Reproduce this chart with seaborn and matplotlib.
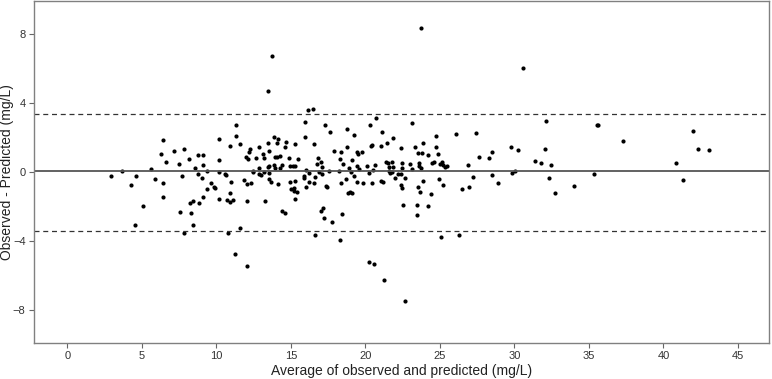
import numpy as np
import pandas as pd
import matplotlib
matplotlib.use('Agg')
import matplotlib.pyplot as plt
import seaborn as sns

# average of observed and predicted (mg/L)
avg_vals = [2.93, 3.7, 4.3, 4.63, 4.54, 5.1, 5.64, 5.9, 6.3, 6.44, 6.42, 6.42, 6.6, 7.18, 7.47,
            7.56, 7.72, 7.81, 7.85, 8.15, 8.23, 8.3, 8.46, 8.44, 8.57, 8.8, 8.78, 8.82,
            13.74, 13.45, 16.13, 16.47, 15.95, 20.72, 11.34, 11.34, 10.16, 10.92, 11.59, 17.32,
            17.63, 18.75, 19.22, 20.32, 15.97, 16.58, 13.87, 14.14, 13.47, 14.05, 14.68, 12.87,
            12.26, 12.21, 13.15, 13.52, 14.61, 15.26, 14.3, 13.92, 14.05, 12.66, 11.97, 12.15,
            13.2, 14.88, 15.48, 9.09, 9.09, 10.16, 9.38, 9.06, 9.64, 9.82, 9.89, 10.2, 10.6,
            10.63, 10.97, 9.11, 9.4, 10.92, 11.84, 12.08, 12.33, 12.44, 12.48, 12.89, 12.89,
            13.0, 13.2, 13.49, 13.56, 13.56, 13.52, 13.65, 13.89, 13.92, 14.3, 14.43, 14.16,
            14.95, 15.13, 15.26, 14.93, 15.3, 14.99, 15.24, 15.2, 15.44, 15.28, 15.86, 15.86,
            16.02, 16.04, 16.24, 16.22, 16.54, 16.64, 16.76, 16.91, 16.83, 17.05, 17.11, 17.09,
            17.34, 17.41, 17.58, 17.9, 18.39, 18.75, 18.21, 18.37, 18.3, 18.5, 18.7, 18.84,
            18.97, 19.11, 18.89, 19.04, 19.13, 19.24, 19.46, 19.5, 19.8, 19.46, 19.6, 19.42,
            19.83, 20.11, 20.22, 20.38, 20.45, 20.67, 20.43, 20.54,
            10.18, 10.72, 10.9, 11.14, 12.04, 13.27, 10.81, 11.61, 11.28, 12.04, 14.41, 14.59,
            16.65, 17.01, 17.14, 17.23, 17.79, 18.44, 18.3, 20.22, 20.56,
            23.72, 30.56, 23.15, 21.14, 21.88, 21.48, 21.05, 22.37, 23.36, 23.85, 24.77, 24.75,
            23.54, 23.77, 24.23, 24.88, 26.11, 27.45, 27.63, 28.3, 28.52, 29.78, 30.25, 32.13,
            32.04, 31.37, 31.81, 32.48, 21.39, 21.52, 21.79, 21.57, 21.86, 21.57, 21.68, 21.79,
            21.97, 22.19, 22.4, 22.44, 22.48, 22.66, 22.98, 23.11, 23.58, 23.62, 23.74, 24.48,
            24.59, 25.01, 25.17, 25.23, 25.33, 25.5, 24.97, 25.2, 21.05, 21.17, 22.4, 22.46,
            23.54, 23.67, 23.85, 24.43, 26.51, 26.94, 26.87, 27.25, 28.5, 28.9, 29.82, 30.07,
            32.35, 32.73,
            22.55, 23.47, 23.47, 24.19, 25.08, 26.31, 21.23, 22.66,
            33.99, 35.33, 35.53, 35.64, 37.3, 40.81, 41.32, 41.99, 42.33, 43.05]

# observed - predicted (mg/L)
diff_vals = [-0.23, 0.04, -0.77, -0.23, -3.1, -2.0, 0.16, -0.44, 1.02, 1.87, -0.65, -1.45, 0.6, 1.2, 0.45,
             -2.31, -0.23, 1.35, -3.55, 0.73, -1.83, -2.41, -1.68, -3.08, 0.23, 1.0, -0.13, -1.83,
             6.73, 4.69, 3.57, 3.67, 2.89, 3.15, 2.74, 2.1, 1.91, 1.5, 1.62, 2.74,
             2.31, 2.49, 2.14, 2.72, 2.03, 1.6, 2.03, 1.89, 1.68, 1.68, 1.76, 1.45,
             1.3, 1.14, 1.06, 1.22, 1.43, 1.64, 0.93, 0.85, 0.85, 0.81, 0.85, 0.73,
             0.83, 0.83, 0.72, 1.0, 0.41, 0.69, 0.04, -0.35, -0.63, -0.89, -0.94, -0.02, -0.12,
             -0.21, -0.56, -1.45, -0.98, -1.25, -0.48, -0.73, -0.65, -0.02, 0.04, 0.23, -0.12,
             -0.21, -0.02, 0.29, 0.33, -0.04, -0.42, -0.56, 0.37, 0.25, 0.2, 0.37, -0.73,
             0.33, 0.33, 0.33, -0.6, -0.54, -0.98, -0.93, -1.12, -1.16, -1.58, -0.23, -0.35,
             0.12, -0.87, -0.09, -0.6, -0.63, -0.29, 0.45, -0.02, 0.83, 0.58, 0.31, -0.13,
             -0.79, -0.87, 0.06, 1.2, 1.14, 1.43, 0.06, -0.65, 0.73, 0.45, -0.42, -1.21,
             -1.17, -1.25, 0.23, -0.02, 0.66, -0.23, 1.16, 1.02, 1.16, 0.33, 0.14, -0.58,
             -0.63, 0.33, -0.09, 1.5, 1.53, 0.41, -0.67, 0.1,
             -1.6, -1.64, -1.77, -1.64, -1.66, -1.71, -3.57, -3.24, -4.78, -5.46, -2.24, -2.37,
             -3.68, -2.26, -2.12, -2.66, -2.93, -2.45, -3.97, -5.24, -5.34,
             8.36, 6.0, 2.86, 2.31, 1.99, 1.66, 1.49, 1.39, 1.47, 1.68, 2.07, 1.47,
             1.12, 1.1, 0.95, 1.01, 2.18, 2.28, 0.89, 0.79, 1.14, 1.45, 1.27, 2.93,
             1.3, 0.62, 0.54, 0.41, 0.6, 0.54, 0.58, 0.29, 0.29, 0.04, -0.09, -0.02,
             -0.35, -0.15, -0.15, 0.49, 0.2, -0.35, 0.45, 0.14, 0.49, 0.33, 0.25, 0.49,
             0.56, 0.46, 0.6, 0.41, 0.29, 0.33, -0.42, -0.75, -0.54, -0.6, -0.77, -0.93,
             -0.87, -1.16, -0.52, -1.29, -1.02, -0.9, 0.41, -0.31, -0.19, -0.64, -0.04, 0.06,
             -0.38, -1.25,
             -1.93, -1.93, -2.49, -1.98, -3.78, -3.64, -6.29, -7.5,
             -0.79, -0.12, 2.7, 2.7, 1.79, 0.52, -0.5, 2.36, 1.3, 1.27]

mean_diff = 0.03
upper_loa = 3.34
lower_loa = -3.43

x_ticks = [0, 5, 10, 15, 20, 25, 30, 35, 40, 45]
y_ticks = [-8, -4, 0, 4, 8]

df = pd.DataFrame({'avg': avg_vals, 'diff': diff_vals})

sns.set_style('white')
plt.rcParams['font.family'] = ['Liberation Sans', 'DejaVu Sans']

fig = plt.figure(figsize=(7.72, 3.79), dpi=100)
ax = fig.add_axes([0.044, 0.096, 0.9525, 0.901])

sns.scatterplot(data=df, x='avg', y='diff', color='black', s=9, linewidth=0, ax=ax)

# mean difference and limits of agreement
ax.axhline(mean_diff, color='#555555', lw=1.3, zorder=1)
ax.axhline(upper_loa, color='#333333', lw=0.9, dashes=(4, 3), zorder=1)
ax.axhline(lower_loa, color='#333333', lw=0.9, dashes=(4, 3), zorder=1)

ax.set_xlim(-2.23, 47.1)
ax.set_ylim(-9.9, 9.9)
ax.set_xticks(x_ticks)
ax.set_yticks(y_ticks)

ax.set_xlabel('Average of observed and predicted (mg/L)', fontsize=10, color='#222222', labelpad=2)
ax.set_ylabel('Observed - Predicted (mg/L)', fontsize=10, color='#222222')
ax.yaxis.set_label_coords(-0.0275, 0.5)

ax.tick_params(axis='both', direction='out', length=3.5, width=0.8, color='#666666',
               labelsize=8, labelcolor='#333333', pad=2.5, bottom=True, left=True)

for s in ax.spines.values():
    s.set_color('#808080')
    s.set_linewidth(1.0)

fig.savefig('out.png', dpi=100)
